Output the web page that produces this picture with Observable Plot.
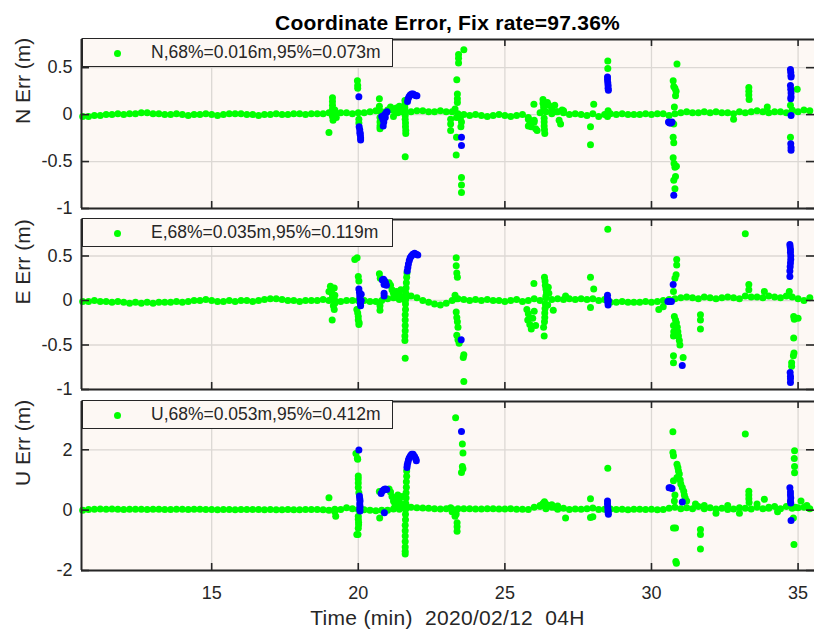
<!DOCTYPE html>
<html>
<head>
<meta charset="utf-8">
<script src="https://cdn.jsdelivr.net/npm/d3@7"></script>
<script src="https://cdn.jsdelivr.net/npm/@observablehq/plot@0.6"></script>
<style>
  html, body { margin: 0; padding: 0; background: #ffffff; overflow: hidden; }
  #chart { position: relative; width: 814px; height: 633px; font-family: "Liberation Sans", Arial, Helvetica, sans-serif; color: #262626; }
  #chart svg { position: absolute; left: 0; top: 0; }
  .title { position: absolute; left: 81px; width: 733px; top: 11px; line-height: 24px; text-align: center; font-weight: bold; font-size: 21px; letter-spacing: 0.25px; color: #000; }
  .xlabel { position: absolute; left: 81px; width: 733px; top: 606px; line-height: 24px; text-align: center; font-size: 21px; letter-spacing: 0.3px; white-space: pre; }
  .legend { position: absolute; left: 82px; width: 309px; height: 27px; border: 1.3px solid #262626; background: #fdf8f4; font-size: 17.5px; line-height: 27px; white-space: pre; z-index: 2; }
  .legend .sw { position: absolute; left: 31px; top: 10.5px; width: 7px; height: 7px; border-radius: 50%; background: #00ff00; }
  .legend .tx { position: absolute; left: 68px; top: 0; }
</style>
</head>
<body>
<div id="chart"></div>
<script>
// Time axis (minutes past 04H, 2020/02/12)
const xDomain = [10.56, 35.56];
const xTicks = [15, 20, 25, 30, 35];

// Sample times of the fixed-solution baseline
const baseTime = [10.6,10.8,11,11.2,11.4,11.6,11.8,12,12.2,12.4,12.6,12.8,13,13.2,13.4,13.6,13.8,14,14.2,14.4,
  14.6,14.8,15,15.2,15.4,15.6,15.8,16,16.2,16.4,16.6,16.8,17,17.2,17.4,17.6,17.8,18,18.2,18.4,
  18.6,18.8,19,19.2,19.4,19.6,19.8,20,20.2,20.4,20.6,20.8,21,21.2,21.4,21.6,21.8,22,22.2,22.4,
  22.6,22.8,23,23.2,23.4,23.6,23.8,24,24.2,24.4,24.6,24.8,25,25.2,25.4,25.6,25.8,26,26.2,26.4,
  26.6,26.8,27,27.2,27.4,27.6,27.8,28,28.2,28.4,28.6,28.8,29,29.2,29.4,29.6,29.8,30,30.2,30.4,
  30.6,30.8,31,31.2,31.4,31.6,31.8,32,32.2,32.4,32.6,32.8,33,33.2,33.4,33.6,33.8,34,34.2,34.4,
  34.6,34.8,35,35.2,35.4];

// North error baseline (m)
const nBase = [-0.02,-0.02,-0.01,-0.01,0, 0,0.01,0,0.01,0.01, 0.02,0.02,0.01,0.01,0, 0,0.01,0,-0.01,0,
  0,0.01,0,-0.01,0, 0.01,0.01,0.01,0,0, -0.01,0,0,0.01,0, 0,0.01,0.01,0,0.01,
  0.01,0.01,0.02,0.01,0.02, 0.02,0.01,0.02,0.02,0.03, 0.04,0.03,0.05,0.06,0.05, 0.02,0.03,0.04,0.04,0.03,
  0.03,0.04,0.03,0.03,0.01, 0,-0.01,0,-0.01,-0.02, -0.01,0,-0.01,-0.02,-0.01, 0,-0.03,-0.06,0.02,0.03,
  0.01,0.03,0.02,0,0.01, 0,-0.01,0.01,-0.02,0, 0.01,0,0.01,0,0, 0,0.01,0,0.01,0.01,
  -0.01,0.01,0.02,0.03,0.02, 0.02,0.03,0.02,0.03,0.02, 0.02,0.01,0.03,0.02,0.03, 0.04,0.03,0.02,0.03,0.03,
  0.02,0.04,0.03,0.05,0.04];

// East error baseline (m)
const eBase = [-0.01,-0.01,0,-0.01,-0.01, -0.02,-0.01,-0.02,-0.03,-0.02, -0.03,-0.02,-0.03,-0.02,-0.02, -0.02,-0.01,-0.02,-0.01,0,
  0,0.01,0,-0.01,-0.01, 0,-0.01,0,0,-0.01, 0,0.01,0.02,0.02,0.01, 0,0,-0.01,0,0,
  0,0.01,0,0,-0.01, 0,0,0,0,-0.01, -0.01,0,0.02,0.03,0.01, 0,0.05,0.03,0,-0.02,
  -0.04,-0.05,-0.03,0,0.02, 0.01,0,0.01,0,0.01, 0,0,-0.01,0,0.01, -0.01,0,0.02,0,0.03,
  0.01,0.02,0.01,0.02,0.01, 0.02,0.01,0.02,0,0.01, -0.02,-0.02,-0.01,-0.02,-0.02, -0.02,-0.01,-0.02,-0.01,0,
  0.01,0.02,0.03,0.04,0.03, 0.02,0.04,0.03,0.02,0.03, 0.04,0.03,0.02,0.05,0.04, 0.04,0.03,0.05,0.04,0.03,
  0.05,0.04,0.02,0,0.03];

// Up error baseline (m)
const uBase = [0,0.02,0.03,0.04,0.03, 0.04,0.03,0.02,0.03,0.03, 0.03,0.02,0.03,0.03,0.02, 0.02,0.03,0.03,0.02,0.03,
  0.03,0.02,0.02,0.01,0.02, 0.02,0.01,0.02,0.02,0.02, 0.02,0.01,0.02,0.01,0.01, 0.02,0.01,0.01,0.02,0.02,
  0.02,0.01,0,0.03,0.02, 0.08,0.05,0.02,0.01,0, -0.02,0,0,0.04,0.03, 0.05,0.1,0.08,0.07,0.06,
  0.05,0.04,0.05,0.04,0.05, 0.05,0.05,0.04,0.04,0.05, 0.05,0.04,0.04,0.05,0.03, 0.03,0.02,0.1,0.15,0.05,
  0.1,0.03,0.06,0.02,0.04, 0.03,0.05,0.07,0.02,0.03, 0.04,0.02,0.03,0.01,0.03, 0.03,0.02,0.03,0.01,0.02,
  0.06,0.1,0.05,0.08,0.05, 0.12,0.05,0.08,0.04,0.06, 0.02,0.04,0.08,0.06,0.04, 0.1,0.05,0.06,0.12,0.05,
  0.12,0.06,0.08,0.1,0.05];

// Fixed epochs away from the baseline: [minute, error m]
const nFix = [[19.12,0.18],[19.12,0.14],[19.12,0.1],[19.12,0.06],[19.14,0.02],[19.12,-0.02],[19.14,-0.06],[19.0,-0.19],[19.2,0.05],[19.25,-0.03],
  [19.97,0.36],[19.98,0.31],[19.98,0.28],[20.02,-0.05],[20.02,-0.09],
  [20.72,0.17],[20.72,0.09],[20.72,0.04],[20.74,-0.03],[20.74,-0.08],[20.74,-0.12],[20.74,-0.15],
  [21.1,0.08],[21.15,0.05],[21.2,-0.02],[21.25,0.04],[21.3,0.07],[21.35,0.02],[21.4,0.09],[21.45,0.05],[21.5,0.03],
  [21.59,0.15],[21.59,0.11],[21.59,0.07],[21.6,0.03],[21.6,-0.01],[21.6,-0.05],[21.61,-0.09],[21.61,-0.13],[21.62,-0.17],[21.62,-0.2],[21.6,-0.45],
  [23.6,0.69],[23.42,0.64],[23.42,0.6],[23.42,0.55],[23.36,0.37],[23.38,0.22],[23.38,0.17],[23.38,0.13],[23.15,-0.05],[23.15,-0.1],[23.15,-0.17],
  [23.35,-0.24],[23.5,-0.13],[23.52,-0.08],[23.48,-0.04],[23.34,-0.43],[23.52,-0.67],[23.52,-0.75],[23.52,-0.83],[23.3,0.06],[23.35,-0.03],
  [25.99,0.11],[25.8,-0.05],[25.85,-0.1],[25.9,-0.13],[26.0,-0.08],[26.05,-0.15],[26.1,-0.17],[25.8,-0.12],
  [26.3,0.16],[26.3,0.12],[26.32,0.08],[26.32,0.04],[26.34,-0.04],[26.34,-0.08],[26.34,-0.12],[26.35,-0.16],[26.36,-0.2],[26.5,0.1],[26.45,0.13],
  [26.6,0.06],[26.7,0.1],[26.75,0.03],[26.85,-0.06],[26.9,-0.1],[26.95,0.05],[27.0,0.04],
  [27.92,-0.13],[27.92,-0.32],[28.03,0.11],[28.51,0.57],[28.51,0.49],[28.52,0.04],[28.5,-0.02],
  [30.87,0.54],[30.74,0.36],[30.76,0.3],[30.8,0.28],[30.84,0.25],[30.82,0.2],[30.74,-0.24],[30.76,-0.3],[30.74,-0.46],[30.77,-0.52],[30.8,-0.56],
  [30.85,-0.55],[30.76,-0.7],[30.82,-0.66],[30.8,-0.79],[30.76,-0.1],[30.78,0.08],
  [32.8,-0.05],[33.32,0.29],[33.32,0.25],[33.32,0.21],[33.33,0.16],[33.95,0.08],
  [34.97,0.27],[34.74,-0.24],[34.74,0.1],[34.8,0.05]];

// Float epochs: [minute, error m]
const nFloat = [[20.02,0.19],[20.03,-0.13],[20.05,-0.16],[20.06,-0.19],[20.07,-0.22],[20.08,-0.25],[20.08,-0.27],[20.06,-0.2],
  [20.8,-0.02],[20.84,-0.05],[20.87,-0.08],[20.85,-0.12],[20.9,0.0],[20.95,0.02],[20.98,0.03],[20.92,-0.03],
  [21.68,0.14],[21.7,0.17],[21.73,0.19],[21.77,0.21],[21.82,0.22],[21.87,0.22],[21.92,0.21],[21.97,0.2],[22.0,0.2],
  [23.52,-0.24],[23.52,-0.33],
  [28.5,0.4],[28.5,0.37],[28.51,0.34],[28.52,0.31],[28.52,0.28],[28.53,0.26],
  [30.58,-0.08],[30.62,-0.09],[30.66,-0.09],[30.7,-0.08],[30.76,-0.86],
  [34.74,0.48],[34.75,0.45],[34.76,0.42],[34.76,0.4],[34.74,0.31],[34.75,0.27],[34.76,0.23],[34.76,0.19],[34.75,0.17],[34.76,-0.01],
  [34.75,-0.31],[34.76,-0.35],[34.76,-0.38]];

const eFix = [[19.05,0.16],[19.08,0.12],[19.1,0.08],[19.12,0.04],[19.0,0.1],[19.18,0.14],[19.2,0.06],[19.15,-0.06],[19.18,-0.1],[19.11,-0.22],[19.2,-0.03],
  [19.88,0.46],[19.96,0.48],[20.0,0.27],[20.02,0.22],[19.98,-0.14],[20.0,-0.18],[20.0,-0.22],[20.02,-0.27],[20.03,-0.25],[19.95,-0.1],
  [20.72,0.3],[20.75,0.25],[20.74,-0.11],[20.74,-0.06],
  [21.05,0.2],[21.1,0.17],[21.15,0.12],[21.2,0.08],[21.25,0.05],[21.3,0.1],[21.35,0.03],[21.4,0.07],[21.45,0.12],[21.5,0.04],
  [21.66,0.31],[21.65,0.26],[21.64,0.2],[21.63,0.14],[21.62,0.08],[21.62,0.02],[21.61,-0.04],[21.61,-0.1],[21.6,-0.16],[21.6,-0.22],
  [21.6,-0.28],[21.6,-0.34],[21.59,-0.4],[21.59,-0.45],[21.6,-0.65],
  [23.34,0.48],[23.34,0.39],[23.36,0.31],[23.38,0.26],[23.3,0.06],[23.34,0.02],[23.34,-0.13],[23.36,-0.19],[23.38,-0.24],[23.4,-0.3],
  [23.36,-0.39],[23.4,-0.44],[23.44,-0.48],[23.58,-0.64],[23.6,-0.61],[23.6,-0.91],
  [25.99,0.19],[26.35,0.26],[26.37,0.22],[26.38,0.17],[26.4,0.13],[26.42,0.09],[26.4,0.05],[26.38,-0.04],[26.37,-0.09],[26.36,-0.14],
  [26.36,-0.19],[26.35,-0.24],[26.32,-0.3],[26.34,-0.4],[26.48,0.15],[26.5,0.08],[26.46,-0.05],
  [25.75,-0.1],[25.8,-0.15],[25.78,-0.22],[25.85,-0.27],[25.9,-0.32],[25.95,-0.2],[26.0,-0.12],[26.05,-0.28],
  [26.65,-0.11],[27.07,0.05],[27.92,0.26],[28.03,0.13],[27.92,-0.08],[28.51,0.8],
  [30.86,0.46],[30.86,0.4],[30.84,0.29],[30.8,0.25],[30.75,0.1],
  [30.78,-0.18],[30.82,-0.22],[30.85,-0.25],[30.88,-0.3],[30.9,-0.35],[30.92,-0.4],[30.95,-0.45],[30.97,-0.5],[30.75,-0.28],[30.76,-0.35],[30.75,-0.4],
  [30.75,-0.62],[30.75,-0.7],[31.08,-0.64],[30.25,-0.1],[30.4,-0.07],
  [31.67,-0.16],[31.67,-0.22],[31.67,-0.32],[33.2,0.75],[33.32,0.18],[33.32,0.12],[33.85,0.1],
  [34.7,0.1],[34.85,-0.18],[34.87,-0.21],[35.0,-0.2],[34.85,-0.42],[34.86,-0.59],[34.84,-0.62],[34.78,-0.7],[34.78,-0.74]];

const eFloat = [[20.02,0.13],[20.04,0.09],[20.05,0.05],[20.06,0.01],[20.07,-0.03],[20.08,-0.06],[20.1,0.07],[20.1,0.0],
  [20.82,0.23],[20.86,0.24],[20.9,0.22],[20.93,0.2],[20.96,0.17],[20.88,0.18],[20.88,0.08],[20.88,0.05],
  [21.67,0.33],[21.69,0.37],[21.71,0.41],[21.74,0.45],[21.77,0.48],[21.81,0.5],[21.86,0.52],[21.92,0.53],[21.98,0.52],[22.03,0.51],
  [23.51,-0.44],
  [28.5,0.06],[28.5,0.02],[28.51,-0.02],[28.52,-0.05],[28.53,0.0],
  [30.56,-0.01],[30.62,-0.01],[30.68,-0.01],[30.74,0.18],[31.05,-0.73],
  [34.72,0.63],[34.73,0.6],[34.74,0.57],[34.74,0.54],[34.75,0.5],[34.75,0.46],[34.74,0.42],[34.73,0.38],[34.72,0.33],[34.72,0.27],
  [34.73,-0.81],[34.74,-0.85],[34.74,-0.88],[34.74,-0.92]];

const uFix = [[19.0,0.41],[19.23,-0.2],[19.2,-0.05],
  [19.92,1.88],[19.97,1.72],[19.98,1.69],[20.0,1.13],[20.0,1.03],[20.0,0.9],[20.0,0.75],[20.02,0.58],
  [20.0,-0.2],[20.0,-0.3],[20.01,-0.4],[20.01,-0.48],[20.0,-0.6],[19.95,-0.81],[19.99,-0.81],
  [20.73,-0.26],[20.72,0.62],[21.05,0.7],[21.1,0.6],[21.15,0.45],[21.2,0.3],[21.25,0.2],[21.3,0.4],[21.35,0.5],[21.4,0.35],
  [21.45,0.2],[21.5,0.45],[21.55,0.1],[21.25,0.08],
  [21.65,1.3],[21.65,1.12],[21.64,0.94],[21.64,0.76],[21.63,0.58],[21.63,0.4],[21.62,0.22],[21.62,0.04],[21.61,-0.14],[21.61,-0.32],
  [21.6,-0.5],[21.6,-0.68],[21.6,-0.86],[21.6,-1.04],[21.6,-1.22],[21.6,-1.36],[21.6,-1.45],
  [23.32,3.06],[23.55,2.19],[23.57,1.89],[23.55,1.45],[23.57,1.37],[23.52,1.25],
  [23.15,0.08],[23.2,-0.05],[23.3,-0.2],[23.34,-0.13],[23.37,-0.42],[23.37,-0.55],[23.37,-0.7],
  [26.2,0.12],[26.3,0.22],[26.35,0.28],[26.4,0.2],[26.5,0.15],[26.6,0.18],[26.7,0.1],[26.8,0.14],
  [27.07,-0.26],[27.92,0.38],[27.92,-0.24],[28.0,-0.22],[28.51,1.39],
  [30.73,2.6],[30.73,1.91],[30.75,1.8],[30.87,1.52],[30.9,1.41],[30.92,1.3],[30.95,1.2],[30.87,1.08],[30.75,0.97],[30.98,1.0],
  [31.0,0.87],[31.05,0.75],[31.1,0.63],[31.12,0.5],[31.15,0.4],[31.2,0.3],[30.8,0.5],[30.78,0.3],
  [30.75,-0.59],[30.82,-0.59],[30.85,-1.76],[30.83,-1.7],
  [31.67,-0.64],[31.67,-0.81],[31.67,-1.29],
  [31.5,0.2],[31.8,0.15],[32.2,-0.1],[32.6,0.15],[33.0,-0.1],[33.6,0.2],[34.0,0.1],[34.3,-0.05],[35.3,0.15],
  [33.2,2.52],[33.32,0.63],[33.32,0.5],[33.32,0.38],[33.33,0.25],[33.85,0.36],
  [34.88,1.97],[34.87,1.71],[34.88,1.45],[34.88,1.24],[34.84,-0.26],[34.86,-1.14],[35.1,0.3],[34.9,0.1]];

const uFloat = [[20.02,1.99],[20.04,0.47],[20.05,0.38],[20.06,0.3],[20.05,0.2],[20.06,0.12],[20.05,0.03],[20.06,-0.03],
  [20.78,0.55],[20.83,0.64],[20.88,0.68],[20.92,0.7],[20.97,0.68],[20.89,-0.09],
  [21.66,1.41],[21.67,1.5],[21.69,1.58],[21.71,1.66],[21.74,1.74],[21.78,1.8],[21.82,1.85],[21.87,1.85],[21.92,1.78],[21.96,1.7],[21.98,1.64],
  [23.52,2.61],
  [28.5,0.3],[28.5,0.2],[28.51,0.1],[28.52,0.0],[28.52,-0.08],[28.53,-0.14],
  [30.6,0.74],[30.65,0.74],[30.7,0.72],[31.05,0.27],
  [34.72,0.74],[34.74,0.6],[34.74,0.5],[34.75,0.4],[34.74,0.3],[34.75,0.24],[34.76,-0.34]];

// Axis ranges, ticks and texts per component
const nDomain = [-1, 0.8], eDomain = [-1, 0.91], uDomain = [-2, 3.6];
const nTicks = [-1, -0.5, 0, 0.5], eTicks = [-1, -0.5, 0, 0.5], uTicks = [-2, 0, 2];
const titleText = "Coordinate Error, Fix rate=97.36%";
const xLabelText = "Time (min)  2020/02/12  04H";
const nLegend = "N,68%=0.016m,95%=0.073m";
const eLegend = "E,68%=0.035m,95%=0.119m";
const uLegend = "U,68%=0.053m,95%=0.412m";

const W = 814, H = 633, ML = 81;
const BG = "#fdf8f4", GRID = "#dcd8d4", AX = "#262626";
const GREEN = "#00ff00", BLUE = "#0000ff", R = 3.5;

const rows = (ts, vs) => ts.map((t, i) => ({t, v: vs[i]}));
const pairs = arr => arr.map(([t, v]) => ({t, v}));

function panel({base, fix, float, yDomain, yTicks, yLabel, top, bottom, showX}) {
  const frameH = bottom - top, frameW = W - ML;
  const marks = [
    Plot.frame({fill: BG, stroke: null}),
    Plot.ruleX(xTicks, {x: d => d, stroke: GRID, strokeWidth: 1.3}),
    Plot.ruleY(yTicks, {y: d => d, stroke: GRID, strokeWidth: 1.3}),
    Plot.dot(rows(baseTime, base), {x: "t", y: "v", r: R, fill: GREEN}),
    Plot.dot(pairs(fix), {x: "t", y: "v", r: R, fill: GREEN}),
    Plot.dot(pairs(float), {x: "t", y: "v", r: R, fill: BLUE}),
    // box: left, bottom and top edges
    Plot.ruleX([xDomain[0]], {x: d => d, stroke: AX, strokeWidth: 2}),
    Plot.ruleY([yDomain[0]], {y: d => d, stroke: AX, strokeWidth: 2}),
    Plot.ruleY([yDomain[1]], {y: d => d, stroke: AX, strokeWidth: 2}),
    // inward tick marks
    Plot.ruleX(xTicks, {x: d => d, insetTop: frameH - 7, stroke: AX, strokeWidth: 1.6}),
    Plot.ruleX(xTicks, {x: d => d, insetBottom: frameH - 7, stroke: AX, strokeWidth: 1.6}),
    Plot.ruleY(yTicks, {y: d => d, insetRight: frameW - 8, stroke: AX, strokeWidth: 1.6}),
    Plot.ruleY(yTicks, {y: d => d, insetLeft: frameW - 8, stroke: AX, strokeWidth: 1.6}),
    Plot.axisY(yTicks, {tickSize: 0, tickPadding: 9, fontSize: 18, label: null, tickFormat: d => `${d}`}),
    Plot.text([yLabel], {frameAnchor: "left", dx: -58, rotate: -90, fontSize: 21, fill: AX})
  ];
  if (showX) marks.push(Plot.axisX(xTicks, {tickSize: 0, tickPadding: 16, fontSize: 18, label: null, tickFormat: d => `${d}`}));
  return Plot.plot({
    width: W, height: H,
    marginLeft: ML, marginRight: 0, marginTop: top, marginBottom: H - bottom,
    style: {background: "transparent", color: AX, fontFamily: '"Liberation Sans", Arial, Helvetica, sans-serif', overflow: "visible"},
    x: {domain: xDomain, axis: null},
    y: {domain: yDomain, axis: null},
    marks
  });
}

const chart = document.getElementById("chart");
const panels = [
  {base: nBase, fix: nFix, float: nFloat, yDomain: nDomain, yTicks: nTicks, yLabel: "N Err (m)", legend: nLegend, top: 39, bottom: 208},
  {base: eBase, fix: eFix, float: eFloat, yDomain: eDomain, yTicks: eTicks, yLabel: "E Err (m)", legend: eLegend, top: 219, bottom: 389},
  {base: uBase, fix: uFix, float: uFloat, yDomain: uDomain, yTicks: uTicks, yLabel: "U Err (m)", legend: uLegend, top: 401, bottom: 570, showX: true}
];
for (const p of panels) {
  chart.appendChild(panel(p));
  const lg = document.createElement("div");
  lg.className = "legend";
  lg.style.top = (p.top - 1) + "px";
  lg.innerHTML = `<span class="sw"></span><span class="tx"></span>`;
  lg.querySelector(".tx").textContent = p.legend;
  chart.appendChild(lg);
}
const title = document.createElement("div");
title.className = "title";
title.textContent = titleText;
chart.appendChild(title);
const xl = document.createElement("div");
xl.className = "xlabel";
xl.textContent = xLabelText;
chart.appendChild(xl);
</script>
</body>
</html>
